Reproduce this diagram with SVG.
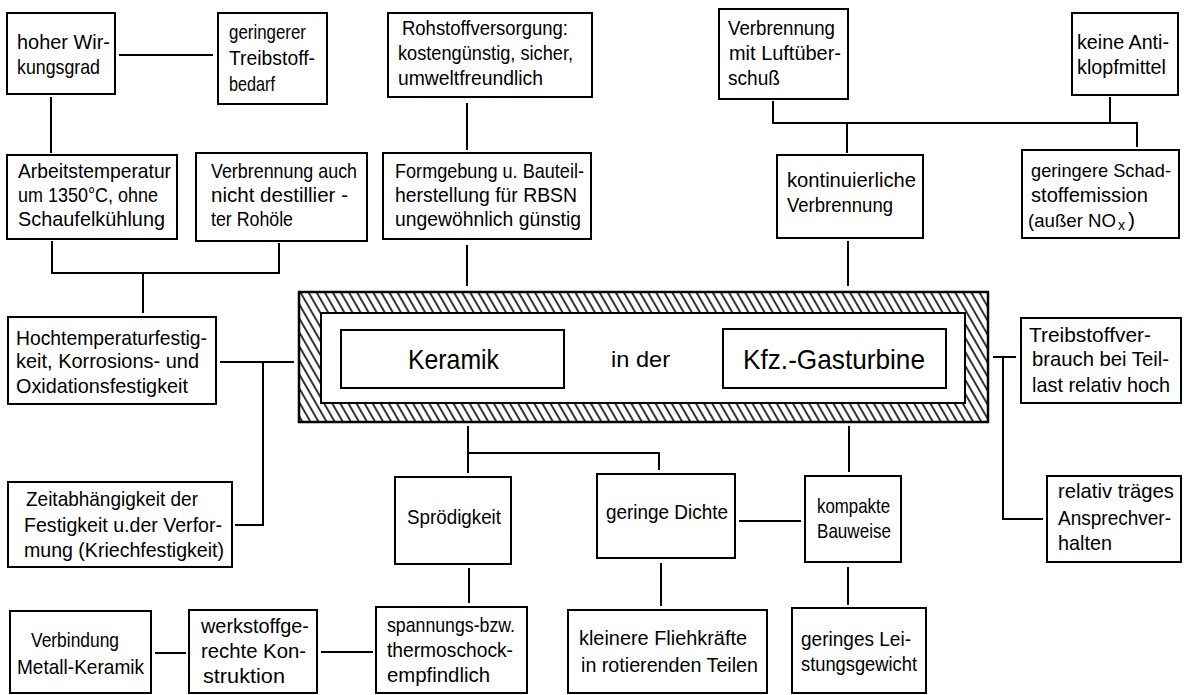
<svg xmlns="http://www.w3.org/2000/svg" width="1184" height="695" viewBox="0 0 1184 695">
<defs>
<pattern id="hatch" width="7" height="7" patternUnits="userSpaceOnUse" patternTransform="rotate(-30)">
<rect width="7" height="7" fill="#fff"/>
<line x1="2" y1="0" x2="2" y2="7" stroke="#000" stroke-width="1.6"/>
</pattern>
<style>
.b{fill:#fff;stroke:#000;stroke-width:2}
.c line,.c path{fill:none;stroke:#000;stroke-width:2}
text{font-family:"Liberation Sans",Arial,sans-serif;font-size:21px;fill:#000}
.big{font-size:28px}
</style>
</defs>
<rect width="1184" height="695" fill="#fff"/>
<g class="c" id="connectors">
<line x1="119" y1="55" x2="213" y2="55"/>
<line x1="51" y1="97" x2="51" y2="153"/>
<path d="M52,241 V273 H279 V243"/>
<line x1="143" y1="273" x2="143" y2="313"/>
<line x1="467" y1="103" x2="467" y2="150"/>
<line x1="467" y1="245" x2="467" y2="286"/>
<path d="M773,101 V123 H1137 V147"/>
<line x1="1110" y1="97" x2="1110" y2="123"/>
<line x1="847" y1="123" x2="847" y2="153"/>
<line x1="848" y1="241" x2="848" y2="286"/>
<line x1="220" y1="362" x2="294" y2="362"/>
<path d="M263,362 V525 H235"/>
<line x1="993" y1="357" x2="1016" y2="357"/>
<path d="M1003,357 V519 H1043"/>
<line x1="468" y1="426" x2="468" y2="473"/>
<path d="M468,453 H659 V470"/>
<line x1="849" y1="426" x2="849" y2="472"/>
<line x1="739" y1="521" x2="801" y2="521"/>
<line x1="469" y1="568" x2="469" y2="603"/>
<line x1="661" y1="563" x2="661" y2="606"/>
<line x1="848" y1="567" x2="848" y2="605"/>
<line x1="155" y1="653" x2="186" y2="653"/>
<line x1="321" y1="652" x2="373" y2="652"/>
</g>
<g id="center">
<rect x="299" y="292" width="689" height="130" fill="url(#hatch)" stroke="#000" stroke-width="2.5"/>
<rect x="321" y="313" width="644" height="90" class="b" stroke-width="2.5"/>
<g id="keramik"><rect class="b" x="341" y="330" width="223" height="58"/><text class="big" x="408" y="369" textLength="91" lengthAdjust="spacingAndGlyphs">Keramik</text></g>
<text id="inder" x="611" y="367" style="font-size:22px" textLength="59" lengthAdjust="spacingAndGlyphs">in der</text>
<g id="kfz"><rect class="b" x="723" y="329" width="223" height="59"/><text class="big" x="743" y="369" textLength="182" lengthAdjust="spacingAndGlyphs">Kfz.-Gasturbine</text></g>
</g>
<g id="n1"><rect class="b" x="7" y="13" width="108" height="81"/><text x="17" y="49" textLength="93" lengthAdjust="spacingAndGlyphs">hoher Wir-</text><text x="17" y="74" textLength="83" lengthAdjust="spacingAndGlyphs">kungsgrad</text></g>
<g id="n2"><rect class="b" x="218" y="13" width="109" height="91"/><text x="229" y="39" textLength="77" lengthAdjust="spacingAndGlyphs">geringerer</text><text x="229" y="65" textLength="86" lengthAdjust="spacingAndGlyphs">Treibstoff-</text><text x="229" y="91" textLength="46" lengthAdjust="spacingAndGlyphs">bedarf</text></g>
<g id="n3"><rect class="b" x="7" y="155" width="170" height="84"/><text x="18" y="178" textLength="153" lengthAdjust="spacingAndGlyphs">Arbeitstemperatur</text><text x="18" y="202" textLength="140" lengthAdjust="spacingAndGlyphs">um 1350°C, ohne</text><text x="18" y="226" textLength="147" lengthAdjust="spacingAndGlyphs">Schaufelkühlung</text></g>
<g id="n4"><rect class="b" x="196" y="153" width="171" height="88"/><text x="211" y="178" textLength="146" lengthAdjust="spacingAndGlyphs">Verbrennung auch</text><text x="211" y="202" textLength="137" lengthAdjust="spacingAndGlyphs">nicht destillier -</text><text x="211" y="226" textLength="82" lengthAdjust="spacingAndGlyphs">ter Rohöle</text></g>
<g id="n5"><rect class="b" x="388" y="13" width="204" height="84"/><text x="402" y="35" textLength="166" lengthAdjust="spacingAndGlyphs">Rohstoffversorgung:</text><text x="398" y="60" textLength="175" lengthAdjust="spacingAndGlyphs">kostengünstig, sicher,</text><text x="398" y="85" textLength="145" lengthAdjust="spacingAndGlyphs">umweltfreundlich</text></g>
<g id="n6"><rect class="b" x="383" y="153" width="208" height="86"/><text x="395" y="178" textLength="189" lengthAdjust="spacingAndGlyphs">Formgebung u. Bauteil-</text><text x="395" y="202" textLength="182" lengthAdjust="spacingAndGlyphs">herstellung für RBSN</text><text x="395" y="226" textLength="186" lengthAdjust="spacingAndGlyphs">ungewöhnlich günstig</text></g>
<g id="n7"><rect class="b" x="719" y="9" width="129" height="90"/><text x="728" y="35" textLength="107" lengthAdjust="spacingAndGlyphs">Verbrennung</text><text x="729" y="60" textLength="112" lengthAdjust="spacingAndGlyphs">mit Luftüber-</text><text x="728" y="85" textLength="52" lengthAdjust="spacingAndGlyphs">schuß</text></g>
<g id="n8"><rect class="b" x="1072" y="13" width="106" height="82"/><text x="1077" y="49" textLength="92" lengthAdjust="spacingAndGlyphs">keine Anti-</text><text x="1077" y="74" textLength="89" lengthAdjust="spacingAndGlyphs">klopfmittel</text></g>
<g id="n9"><rect class="b" x="777" y="155" width="146" height="83"/><text x="787" y="187" textLength="129" lengthAdjust="spacingAndGlyphs">kontinuierliche</text><text x="787" y="212" textLength="106" lengthAdjust="spacingAndGlyphs">Verbrennung</text></g>
<g id="n10"><rect class="b" x="1022" y="150" width="157" height="88"/><text x="1031" y="177" style="font-size:19px" textLength="140" lengthAdjust="spacingAndGlyphs">geringere Schad-</text><text x="1031" y="202" textLength="117" lengthAdjust="spacingAndGlyphs">stoffemission</text><text x="1028" y="227" style="font-size:18.5px" textLength="88" lengthAdjust="spacingAndGlyphs">(außer NO</text><text x="1118" y="230" style="font-size:14px">x</text><text x="1128" y="227">)</text></g>
<g id="n11"><rect class="b" x="8" y="317" width="208" height="87"/><text x="16" y="345" textLength="191" lengthAdjust="spacingAndGlyphs">Hochtemperaturfestig-</text><text x="16" y="368" textLength="183" lengthAdjust="spacingAndGlyphs">keit, Korrosions- und</text><text x="16" y="393" textLength="172" lengthAdjust="spacingAndGlyphs">Oxidationsfestigkeit</text></g>
<g id="n12"><rect class="b" x="8" y="482" width="224" height="85"/><text x="26" y="506" textLength="172" lengthAdjust="spacingAndGlyphs">Zeitabhängigkeit der</text><text x="24" y="532" textLength="198" lengthAdjust="spacingAndGlyphs">Festigkeit u.der Verfor-</text><text x="24" y="557" textLength="200" lengthAdjust="spacingAndGlyphs">mung (Kriechfestigkeit)</text></g>
<g id="n13"><rect class="b" x="1021" y="318" width="160" height="85"/><text x="1029" y="342" textLength="122" lengthAdjust="spacingAndGlyphs">Treibstoffver-</text><text x="1032" y="366" textLength="137" lengthAdjust="spacingAndGlyphs">brauch bei Teil-</text><text x="1032" y="392" textLength="138" lengthAdjust="spacingAndGlyphs">last relativ hoch</text></g>
<g id="n14"><rect class="b" x="395" y="477" width="116" height="87"/><text x="407" y="524" textLength="94" lengthAdjust="spacingAndGlyphs">Sprödigkeit</text></g>
<g id="n15"><rect class="b" x="597" y="474" width="138" height="84"/><text x="606" y="519" textLength="122" lengthAdjust="spacingAndGlyphs">geringe Dichte</text></g>
<g id="n16"><rect class="b" x="805" y="476" width="96" height="86"/><text x="817" y="513" textLength="73" lengthAdjust="spacingAndGlyphs">kompakte</text><text x="817" y="538" textLength="74" lengthAdjust="spacingAndGlyphs">Bauweise</text></g>
<g id="n17"><rect class="b" x="1047" y="476" width="134" height="86"/><text x="1058" y="498" textLength="116" lengthAdjust="spacingAndGlyphs">relativ träges</text><text x="1058" y="525" textLength="113" lengthAdjust="spacingAndGlyphs">Ansprechver-</text><text x="1058" y="550" textLength="54" lengthAdjust="spacingAndGlyphs">halten</text></g>
<g id="n18"><rect class="b" x="376" y="607" width="151" height="86"/><text x="387" y="632" textLength="128" lengthAdjust="spacingAndGlyphs">spannungs-bzw.</text><text x="387" y="657" textLength="126" lengthAdjust="spacingAndGlyphs">thermoschock-</text><text x="387" y="682" textLength="103" lengthAdjust="spacingAndGlyphs">empfindlich</text></g>
<g id="n19"><rect class="b" x="189" y="610" width="128" height="83"/><text x="201" y="633" textLength="108" lengthAdjust="spacingAndGlyphs">werkstoffge-</text><text x="201" y="658" textLength="105" lengthAdjust="spacingAndGlyphs">rechte Kon-</text><text x="203" y="683" textLength="82" lengthAdjust="spacingAndGlyphs">struktion</text></g>
<g id="n20"><rect class="b" x="10" y="611" width="141" height="82"/><text x="31" y="647" textLength="88" lengthAdjust="spacingAndGlyphs">Verbindung</text><text x="17" y="674" textLength="127" lengthAdjust="spacingAndGlyphs">Metall-Keramik</text></g>
<g id="n21"><rect class="b" x="568" y="610" width="199" height="83"/><text x="579" y="645" textLength="168" lengthAdjust="spacingAndGlyphs">kleinere Fliehkräfte</text><text x="581" y="672" textLength="177" lengthAdjust="spacingAndGlyphs">in rotierenden Teilen</text></g>
<g id="n22"><rect class="b" x="792" y="608" width="134" height="85"/><text x="801" y="646" textLength="110" lengthAdjust="spacingAndGlyphs">geringes Lei-</text><text x="801" y="671" textLength="116" lengthAdjust="spacingAndGlyphs">stungsgewicht</text></g>
</svg>
